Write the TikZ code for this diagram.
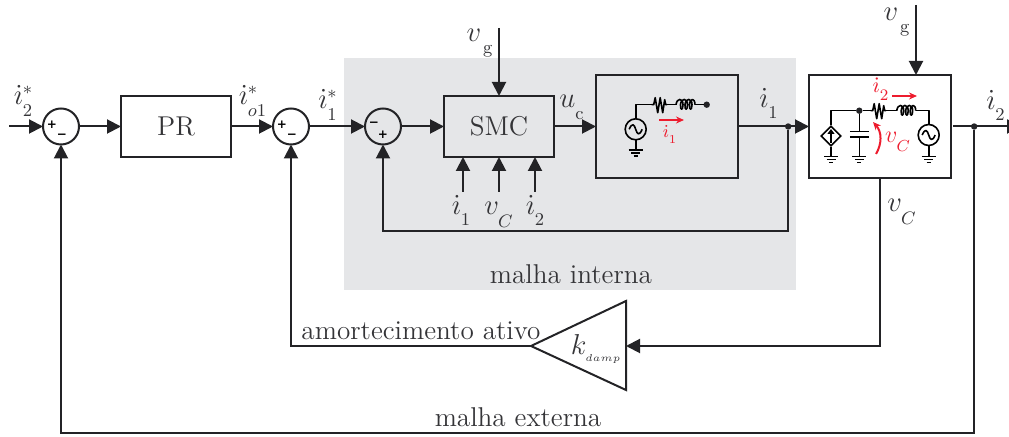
\documentclass[tikz,border=0pt]{standalone}
\usepackage{amsmath}
\usepackage{amssymb}
\usepackage{fontspec}
\newfontfamily\signfont{DejaVu Sans}
\usetikzlibrary{shapes.geometric, arrows.meta, positioning, calc}
\DeclareMathSizes{15}{15}{9}{4.8}
\definecolor{lineDark}{RGB}{35, 35, 38}
\definecolor{textDark}{RGB}{52, 52, 55}
\definecolor{loopGray}{RGB}{229, 230, 232}
\definecolor{circuitRed}{RGB}{237, 28, 46}
\newcommand{\idot}{\dot{\imath}}
\newcommand{\lowsub}[1]{\rule{0pt}{#1}}
\tikzset{
    pics/resistor/.style={code={
        \draw[wire] (0,0) -- (2,0) -- (3.5,-7) -- (6,8) -- (8.5,-7) -- (11,8) -- (13,-5) -- (14,0) -- (15.5,0);
    }},
    pics/coil/.style={code={
        \draw[wire] (0,0) .. controls (1,-7) and (7,-7) .. (7,0) .. controls (7,6) and (4,6) .. (4.5,0) .. controls (5,-7) and (11.5,-7) .. (11.5,0) .. controls (11.5,6) and (8.5,6) .. (9,0) .. controls (9.5,-7) and (16,-7) .. (16,0) .. controls (16,6) and (13,6) .. (13.5,0) .. controls (14,-7) and (19,-7) .. (19,0);
    }},
    pics/acsource/.style={code={
        \draw[wire] (0,0) circle (10.5);
        \draw[wire] (-6.5,0) .. controls (-3.5,-7) and (-1.5,-5) .. (0,0) .. controls (1.5,5) and (3.5,7) .. (6.5,0);
    }},
    pics/gnd/.style={code={
        \draw[wire] (-7,0) -- (7,0);
        \draw[wire] (-4.5,3) -- (4.5,3);
        \draw[wire] (-2,6) -- (2,6);
    }}
}
\begin{document}
\begin{tikzpicture}[
                x=0.5pt, y=-0.5pt,
                font=\fontsize{13.6}{15}\selectfont,
                every node/.append style={text=textDark},
                mathlabel/.style={font=\fontsize{15}{17}\selectfont, anchor=base, inner sep=0pt},
                redlabel/.style={text=circuitRed, anchor=base, inner sep=0pt},
                box/.style={rectangle, draw=lineDark, line width=1pt, outer sep=0pt, minimum width=55pt, minimum height=30.5pt, align=center},
                plantbox/.style={box, minimum width=71pt, minimum height=51.5pt},
                sumnode/.style={circle, draw=lineDark, line width=1pt, outer sep=0pt, minimum size=18pt, inner sep=0pt},
                sign/.style={inner sep=0pt, font=\fontsize{6}{6}\selectfont\signfont\bfseries, text=black},
                dotnode/.style={circle, fill=lineDark, minimum size=3.2pt, inner sep=0pt, outer sep=0pt},
                arrow/.style={-{Triangle[length=7pt, width=7pt]}, line width=1pt, lineDark},
                wire/.style={line width=0.8pt, black, line join=round},
                redarrow/.style={-{Stealth[length=4pt, width=3.5pt]}, line width=0.8pt, circuitRed}
            ]
                \useasboundingbox (0,0) rectangle (1009,437);
                \fill[loopGray] (344,58) rectangle (796,290);

                \node[sumnode] (s1) at (61,126.5) {};
                \node[box, right=21pt of s1] (pr) {PR};
                \node[sumnode, right=21pt of pr] (s2) {};
                \node[sumnode, right=28pt of s2] (s3) {};
                \node[box, right=21.5pt of s3] (smc) {SMC};
                \node[plantbox, right=21pt of smc] (inverter) {};
                \node[plantbox, right=35.5pt of inverter] (filter) {};
                \node[dotnode, right=23.5pt of inverter] (jct) {};
                \node[dotnode, right=10pt of filter] (outdot) {};

                % gain block
                \coordinate (kapex) at (531,346);
                \coordinate (ktop) at (626,301);
                \coordinate (kbot) at (626,390);
                \coordinate (kin) at (626,346);
                \draw[line width=1pt, lineDark, line join=miter] (kapex) -- (ktop) -- (kbot) -- cycle;
                \node[mathlabel] (kdamp) at (596.5,355) {$k_{{}_{\lowsub{3pt}damp}}$};

                % signs
                \node[sign] at ($(s1)+(-9,-2)$) {+};
                \node[sign] at ($(s1)+(1,10)$) {−};
                \node[sign] at ($(s2)+(-9,-2)$) {+};
                \node[sign] at ($(s2)+(1,10)$) {−};
                \node[sign] at ($(s3)+(-9,-2)$) {−};
                \node[sign] at ($(s3)+(0,8)$) {+};

                \coordinate (ref) at (9,126.5);
                \coordinate (vgsmc) at (499,28);
                \coordinate (vgfilter) at (916,5);
                \coordinate (outend) at (1021,126.5);
                \coordinate (fb) at (383,231);
                \coordinate (ext) at (61,433);
                \coordinate (in1) at (463,192);
                \coordinate (in2) at (499,192);
                \coordinate (in3) at (535,192);

                \draw[arrow] (ref) -- (s1);
                \draw[arrow] (s1) -- (pr);
                \draw[arrow] (pr) -- (s2);
                \draw[arrow] (s2) -- (s3);
                \draw[arrow] (s3) -- (smc);
                \draw[arrow] (smc) -- (inverter);
                \draw[arrow] (inverter) -- (filter);
                \draw[arrow, shorten <=1pt] (filter) -- (outend);
                \draw[arrow] (vgsmc) -- (smc);
                \draw[arrow] (vgfilter) -- (vgfilter |- filter.north);
                \draw[arrow] (in1) -- (in1 |- smc.south);
                \draw[arrow] (in2) -- (in2 |- smc.south);
                \draw[arrow] (in3) -- (in3 |- smc.south);
                \draw[arrow] (jct) |- (fb) -- (s3);
                \draw[arrow] (filter) |- (kin);
                \draw[arrow] (kapex) -| (s2);
                \draw[arrow] (outdot) |- (ext) -- (s1);

                % labels
                \node[mathlabel] at (23.5,105) {$\idot^{*}_{\lowsub{8.7pt}2}$};
                \node[mathlabel] at (253,105) {$\idot^{*}_{\lowsub{8.7pt}o1}$};
                \node[mathlabel] at (328,109) {$\idot^{*}_{\lowsub{8.7pt}1}$};
                \node[mathlabel] at (480,42) {$v_{\lowsub{10.5pt}\,\mathrm{g}}$};
                \node[mathlabel] at (572,108) {$u_{\lowsub{10.5pt}\mathrm{c}}$};
                \node[mathlabel] at (769,108) {$\idot_{\lowsub{10.2pt}1}$};
                \node[mathlabel] at (897,21) {$v_{\lowsub{10.5pt}\,\mathrm{g}}$};
                \node[mathlabel] at (996,110) {$\idot_{\lowsub{10.2pt}2}$};
                \node[mathlabel] at (461.5,215) {$\idot_{\lowsub{10.2pt}1}$};
                \node[mathlabel] at (499,215) {$v_{\lowsub{11pt}C}$};
                \node[mathlabel] at (535.5,215) {$\idot_{\lowsub{10.2pt}2}$};
                \node[mathlabel] at (902,212) {$v_{\lowsub{11pt}C}$};
                \node at (571,274) {malha interna};
                \node at (421,331) {amortecimento ativo};
                \node at (518,417) {malha externa};

                % single-phase inverter circuit
                \node[dotnode] (endone) at (706.7,104.7) {};
                \pic at (635.7,129.3) {acsource};
                \draw[wire] (635.7,118.8) |- (651.7,104.7);
                \pic at (651.7,104.7) {resistor};
                \draw[wire] (667,104.7) -- (676,104.7);
                \pic at (676,104.7) {coil};
                \draw[wire] (695,104.7) -- (endone);
                \draw[wire] (635.7,139.8) -- (635.7,150);
                \pic at (635.7,150) {gnd};
                \coordinate (ione) at (659,120);
                \draw[redarrow] (ione) -- ++(25,0);
                \node[redlabel, font=\fontsize{9}{10}\selectfont] at (670,138) {$\idot_{\lowsub{6pt}1}$};

                % output filter circuit
                \node[dotnode] (capdot) at (859.3,110.7) {};
                \node[diamond, draw=black, line width=0.8pt, minimum size=10pt, inner sep=0pt] (csource) at (831,136) {};
                \draw[wire] (csource.north) |- (capdot);
                \draw[wire, -{Triangle[length=2.5pt, width=3.5pt]}] (831,143) -- (831,129);
                \draw[wire] (csource.south) -- (831,156.7);
                \pic at (831,156.7) {gnd};
                \draw[wire] (capdot) -- (859.3,131.7);
                \draw[wire] (849.8,131.7) -- (868.8,131.7);
                \draw[wire] (849.8,137.3) -- (868.8,137.3);
                \draw[wire] (859.3,137.3) -- (859.3,156.7);
                \pic at (859.3,156.7) {gnd};
                \draw[wire] (capdot) -- (870.7,110.7);
                \pic at (870.7,110.7) {resistor};
                \draw[wire] (886,110.7) -- (896.7,110.7);
                \pic at (896.7,110.7) {coil};
                \draw[wire] (915.7,110.7) -| (928.7,124.5);
                \pic at (928.7,135) {acsource};
                \draw[wire] (928.7,145.5) -- (928.7,156.7);
                \pic at (928.7,156.7) {gnd};
                \coordinate (itwo) at (892,96);
                \draw[redarrow] (itwo) -- ++(25,0);
                \node[redlabel, font=\fontsize{11}{12}\selectfont] at (881,93) {$\idot_{\lowsub{7.5pt}2}$};
                \coordinate (vcbot) at (876,154);
                \coordinate (vctop) at (873,122);
                \draw[redarrow, line width=1pt] (vcbot) .. controls (882,144) and (882,132) .. (vctop);
                \node[redlabel, font=\fontsize{12}{13}\selectfont] at (898,143) {$v_{\lowsub{8.5pt}C}$};
            \end{tikzpicture}
\end{document}
